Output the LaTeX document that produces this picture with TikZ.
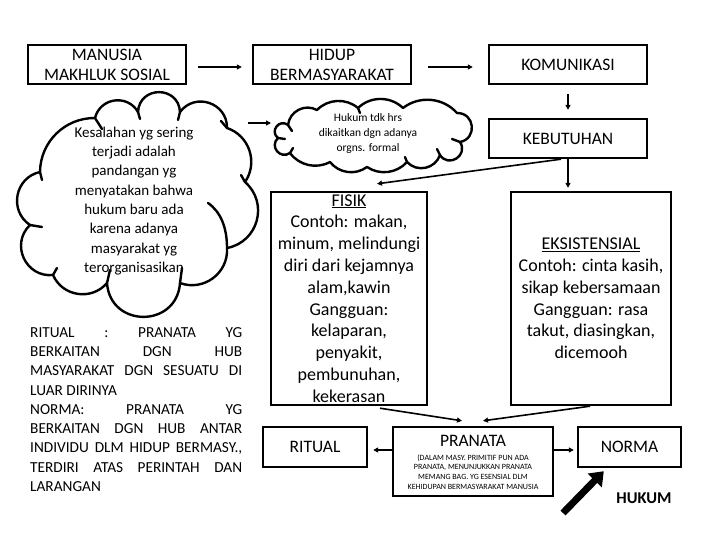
\documentclass[tikz,border=0pt]{standalone}
\usepackage{fontspec}
\setmainfont{Carlito}
\usetikzlibrary{arrows.meta,calc}
\begin{document}
\begin{tikzpicture}[x=1pt,y=-1pt,
  box/.style={draw,line width=2.4pt,inner sep=0pt,align=center},
  head/.style={font=\fontsize{17.5}{20}\selectfont},
  big/.style={font=\fontsize{18}{21.8}\selectfont},
  conn/.style={line width=1.6pt,-{Triangle[length=5pt,width=5pt]}},
  cloudline/.style={line width=2.4pt,line join=round,line cap=round},
  txt/.style={inner sep=0pt,align=center}]
\fill[white] (0,0) rectangle (720,540);
\useasboundingbox (0,0) rectangle (720,540);

% top row
\node[box,head,minimum width=158pt,minimum height=39pt] (man) at (107,64.5) {MANUSIA\\MAKHLUK SOSIAL};
\node[box,head,minimum width=158pt,minimum height=39pt] (hid) at (332,64.5) {HIDUP\\BERMASYARAKAT};
\node[box,head,minimum width=158pt,minimum height=39pt] (kom) at (568,64.5) {KOMUNIKASI};
\node[box,head,minimum width=158pt,minimum height=39pt] (keb) at (568,138.5) {KEBUTUHAN};

% big cloud: cusps c, puffs as circular arcs
\foreach \n/\xy in {1/{40,172},2/{95,118},3/{138,112},4/{180,112},5/{227,128},6/{245,182},7/{227,248},8/{180,283},9/{107,283},10/{53,275},11/{30,225}}
  {\coordinate (c\n) at (\xy);}
\draw[cloudline] (c1) \foreach \b/\o/\i/\l in {2/45/135/1.00,3/68/112/1.24,4/87/93/1.62,5/72/108/1.30,6/53/127/1.06,7/64/116/1.19,8/57/123/1.10,9/86/94/1.59,10/58/122/1.11,11/71/109/1.28,1/67/113/1.22}
  { to[relative,out=\o,in=\i,looseness=\l] (c\b) } -- cycle;
\draw[cloudline] (40,172) -- (42,180) (95,118) -- (102,129) (138,112) -- (140,119)
  (180,112) -- (178,120) (227,128) -- (221,121) (245,182) -- (241,175)
  (180,283) -- (182,268) (107,283) -- (110,270) (53,275) -- (57,268) (30,225) -- (42,227);
\draw[cloudline] (227,248) .. controls (227,228) and (221,212) .. (208,203);
\node[txt,font=\fontsize{15}{19.3}\selectfont] (cl1t) at (134,201) {Kesalahan yg sering\\terjadi adalah\\pandangan yg\\menyatakan bahwa\\hukum baru ada\\karena adanya\\masyarakat yg\\terorganisasikan};

% small cloud
\foreach \n/\xy in {1/{288,125},2/{317,110},3/{358,108},4/{403,108},5/{457,113},6/{460,142},7/{440,155},8/{407,162},9/{367,167},10/{330,162},11/{290,153},12/{278,138}}
  {\coordinate (d\n) at (\xy);}
\draw[cloudline] (d1) \foreach \b/\o/\i/\l in {2/56/124/1.09,3/43/137/0.98,4/44/136/0.99,5/43/137/0.98,6/85/95/1.57,7/90/90/1.70,8/59/121/1.12,9/41/139/0.97,10/44/136/0.99,11/41/139/0.97,12/86/94/1.60,1/90/90/1.70}
  { to[relative,out=\o,in=\i,looseness=\l] (d\b) } -- cycle;
\draw[cloudline] (288,125) -- (292,131) (358,108) -- (360,113) (460,142) -- (452,139)
  (440,155) -- (437,149) (407,162) -- (405,157) (290,153) -- (293,148) (278,138) -- (285,139);
\node[txt,font=\fontsize{11.5}{15}\selectfont] (cl2t) at (368,133) {Hukum tdk hrs\\dikaitkan dgn adanya\\orgns. formal};

% FISIK / EKSISTENSIAL
\node[box,big,minimum width=156pt,minimum height=213pt] (fis) at (349,298.5) {\underline{FISIK}\\Contoh: makan,\\minum, melindungi\\diri dari kejamnya\\alam,kawin\\Gangguan:\\kelaparan,\\penyakit,\\pembunuhan,\\kekerasan};
\node[box,big,minimum width=160pt,minimum height=213pt] (eks) at (591,298.5) {\underline{EKSISTENSIAL}\\Contoh: cinta kasih,\\sikap kebersamaan\\Gangguan: rasa\\takut, diasingkan,\\dicemooh};

% bottom row
\node[box,head,minimum width=104pt,minimum height=40pt] (rit) at (315,447) {RITUAL};
\node[box,minimum width=160pt,minimum height=69pt] (pra) at (473,461.5) {};
\node[txt,head] (prat) at (473,441) {PRANATA};
\node[txt,font=\fontsize{8}{9.9}\selectfont] (pras) at (473,472) {(DALAM MASY. PRIMITIF PUN ADA\\PRANATA, MENUNJUKKAN PRANATA\\MEMANG BAG. YG ESENSIAL DLM\\KEHIDUPAN BERMASYARAKAT MANUSIA};
\node[box,head,minimum width=103pt,minimum height=40pt] (nor) at (629.5,447) {NORMA};
\node[txt,font=\fontsize{16.5}{20}\selectfont\bfseries] (huk) at (644,498) {HUKUM};

% left explanatory text
\node[inner sep=0pt,text width=212pt,align=justify,anchor=north west,font=\fontsize{15.3}{19.3}\selectfont] (def) at (30,327) {\setlength{\parindent}{0pt}RITUAL : PRANATA YG\linebreak BERKAITAN DGN HUB\linebreak MASYARAKAT DGN SESUATU DI\linebreak LUAR DIRINYA\par
NORMA: PRANATA YG\linebreak BERKAITAN DGN HUB ANTAR\linebreak INDIVIDU DLM HIDUP BERMASY.,\linebreak TERDIRI ATAS PERINTAH DAN\linebreak LARANGAN\par};

% connectors
\coordinate (cl1out) at (248,123);
\coordinate (cl2in) at (271,123);
\draw[conn] ([xshift=11pt,yshift=-2.5pt]man.east) -- ([xshift=-10pt,yshift=-2.5pt]hid.west);
\draw[conn] ([xshift=16pt,yshift=-2.5pt]hid.east) -- ([xshift=-15pt,yshift=-2.5pt]kom.west);
\draw[conn] ([yshift=-9pt]kom.south) -- ([yshift=8pt]keb.north);
\draw[conn] (keb.south) -- ([yshift=3pt]keb.south |- eks.north);
\draw[conn] ([xshift=-7pt]keb.south) -- ([xshift=28pt,yshift=7pt]fis.north);
\draw[conn] (cl1out) -- (cl2in);
\draw[conn] ([xshift=31pt,yshift=-2pt]fis.south) -- ([xshift=-11pt,yshift=5pt]pra.north);
\draw[conn] ([xshift=-1pt]eks.south) -- ([xshift=10pt,yshift=5pt]pra.north);
\draw[conn] ([yshift=11.5pt]pra.west) -- ([xshift=5pt,yshift=-3pt]rit.east);
\draw[conn] ([yshift=11.5pt]pra.east) -- ([xshift=-3pt,yshift=-3pt]nor.west);
\coordinate (hukstart) at (563,513);
\draw[line width=7pt,-{Triangle[length=13pt,width=19pt]}] (hukstart) -- ([xshift=27pt,yshift=-3pt]nor.south west);
\end{tikzpicture}
\end{document}
